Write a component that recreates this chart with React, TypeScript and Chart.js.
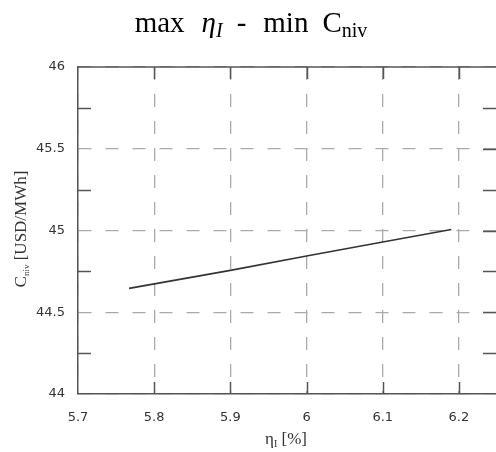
import React, { useEffect, useRef } from "react";
import { Chart, registerables } from "chart.js";

Chart.register(...registerables);

const ETA_VALUES = [5.767, 5.9, 6.0, 6.1, 6.19];
const COST_VALUES = [44.646, 44.756, 44.844, 44.93, 45.006];
const X_TICKS = [5.7, 5.8, 5.9, 6.0, 6.1, 6.2];
const X_TICK_LABELS = ["5.7", "5.8", "5.9", "6", "6.1", "6.2"];
const Y_TICKS = [44, 44.5, 45, 45.5, 46];
const Y_TICK_LABELS = ["44", "44.5", "45", "45.5", "46"];
const Y_MINOR_TICKS = [44.25, 44.75, 45.25, 45.75];
const X_MIN = 5.7;
const X_MAX = 6.25;
const Y_MIN = 44;
const Y_MAX = 46;

type Piece = { t: string; font: string; dy?: number; gap?: number };

function drawPieces(ctx: CanvasRenderingContext2D, pieces: Piece[], cx: number, y: number) {
  let total = 0;
  const widths = pieces.map((p) => {
    ctx.font = p.font;
    const w = ctx.measureText(p.t).width;
    total += w + (p.gap || 0);
    return w;
  });
  let x = cx - total / 2;
  pieces.forEach((p, i) => {
    x += p.gap || 0;
    ctx.font = p.font;
    ctx.fillText(p.t, x, y + (p.dy || 0));
    x += widths[i];
  });
}

const decorPlugin = {
  id: "decor",
  afterDraw(chart: any) {
    const { ctx, chartArea } = chart;
    const xs = chart.scales.x;
    const ys = chart.scales.y;
    const { left, right, top, bottom } = chartArea;
    ctx.save();
    ctx.strokeStyle = "#555";
    ctx.lineWidth = 1.5;
    // top border
    ctx.beginPath();
    ctx.moveTo(left, top);
    ctx.lineTo(right, top);
    ctx.stroke();
    const tl = 12;
    // top & bottom ticks
    X_TICKS.slice(1).forEach((v) => {
      const px = Math.round(xs.getPixelForValue(v)) + 0.5;
      ctx.beginPath();
      ctx.moveTo(px, top);
      ctx.lineTo(px, top + tl);
      ctx.moveTo(px, bottom);
      ctx.lineTo(px, bottom - tl);
      ctx.stroke();
    });
    // left minor ticks
    Y_MINOR_TICKS.forEach((v) => {
      const py = Math.round(ys.getPixelForValue(v)) + 0.5;
      ctx.beginPath();
      ctx.moveTo(left, py);
      ctx.lineTo(left + 13, py);
      ctx.stroke();
    });
    // right ticks
    [...Y_MINOR_TICKS, ...Y_TICKS.slice(1, -1)].forEach((v) => {
      const py = Math.round(ys.getPixelForValue(v)) + 0.5;
      ctx.beginPath();
      ctx.moveTo(right, py);
      ctx.lineTo(right - 14, py);
      ctx.stroke();
    });
    // title
    ctx.fillStyle = "#000";
    ctx.textBaseline = "alphabetic";
    const serif = '"Liberation Serif", "DejaVu Serif", serif';
    drawPieces(
      ctx,
      [
        { t: "max", font: `29px ${serif}` },
        { t: "η", font: `italic 29px ${serif}`, gap: 17 },
        { t: "I", font: `italic 20px ${serif}`, dy: 5 },
        { t: "-", font: `29px ${serif}`, gap: 14 },
        { t: "min", font: `29px ${serif}`, gap: 17 },
        { t: "C", font: `29px ${serif}`, gap: 14 },
        { t: "niv", font: `20px ${serif}`, dy: 5 },
      ],
      251,
      32
    );
    // x axis title
    ctx.fillStyle = "#333";
    drawPieces(
      ctx,
      [
        { t: "η", font: `17px ${serif}` },
        { t: "I", font: `10px ${serif}`, dy: 3 },
        { t: " [%]", font: `17px ${serif}` },
      ],
      286,
      444
    );
    // y axis title
    ctx.save();
    ctx.translate(26, 229);
    ctx.rotate(-Math.PI / 2);
    drawPieces(
      ctx,
      [
        { t: "C", font: `17px ${serif}` },
        { t: "niv", font: `9px ${serif}`, dy: 3 },
        { t: " [USD/MWh]", font: `17px ${serif}` },
      ],
      0,
      0
    );
    ctx.restore();
    ctx.restore();
  },
};

export default function App() {
  const ref = useRef<HTMLCanvasElement>(null);
  useEffect(() => {
    if (!ref.current) return;
    const tickFont = { family: '"DejaVu Sans", Verdana, sans-serif', size: 13 };
    const chart = new Chart(ref.current, {
      type: "scatter",
      data: {
        datasets: [
          {
            data: ETA_VALUES.map((x, i) => ({ x, y: COST_VALUES[i] })),
            showLine: true,
            borderColor: "#333",
            borderWidth: 1.6,
            pointRadius: 0,
          },
        ],
      },
      plugins: [decorPlugin],
      options: {
        animation: false,
        responsive: false,
        devicePixelRatio: 1,
        layout: { padding: { left: 0, top: 67, right: 3, bottom: 0 } },
        plugins: { legend: { display: false }, tooltip: { enabled: false }, title: { display: false } },
        scales: {
          x: {
            type: "linear",
            min: X_MIN,
            max: X_MAX,
            afterFit: (s: any) => {
              s.height = 58;
            },
            afterBuildTicks: (s: any) => {
              s.ticks = X_TICKS.map((v) => ({ value: v }));
            },
            ticks: {
              callback: (_v: any, i: number) => X_TICK_LABELS[i],
              font: tickFont,
              color: "#333",
              padding: 16,
              maxRotation: 0,
              autoSkip: false,
            },
            grid: { color: "#aaa", lineWidth: 1.3, drawTicks: false },
            border: { color: "#555", width: 1.5, dash: [13, 14] },
          },
          y: {
            type: "linear",
            min: Y_MIN,
            max: Y_MAX,
            afterFit: (s: any) => {
              s.width = 78;
            },
            afterBuildTicks: (s: any) => {
              s.ticks = Y_TICKS.map((v) => ({ value: v }));
            },
            ticks: {
              callback: (_v: any, i: number) => Y_TICK_LABELS[i],
              font: tickFont,
              color: "#333",
              padding: 13,
              autoSkip: false,
            },
            grid: { color: "#aaa", lineWidth: 1.3, drawTicks: false },
            border: { color: "#555", width: 1.5, dash: [13, 14] },
          },
        },
      },
    });
    return () => chart.destroy();
  }, []);
  return (
    <div style={{ position: "fixed", left: 0, top: 0, width: 496, height: 452, overflow: "hidden", background: "#fff" }}>
      <canvas ref={ref} width={500} height={452} style={{ display: "block", width: 500, height: 452 }} />
    </div>
  );
}
